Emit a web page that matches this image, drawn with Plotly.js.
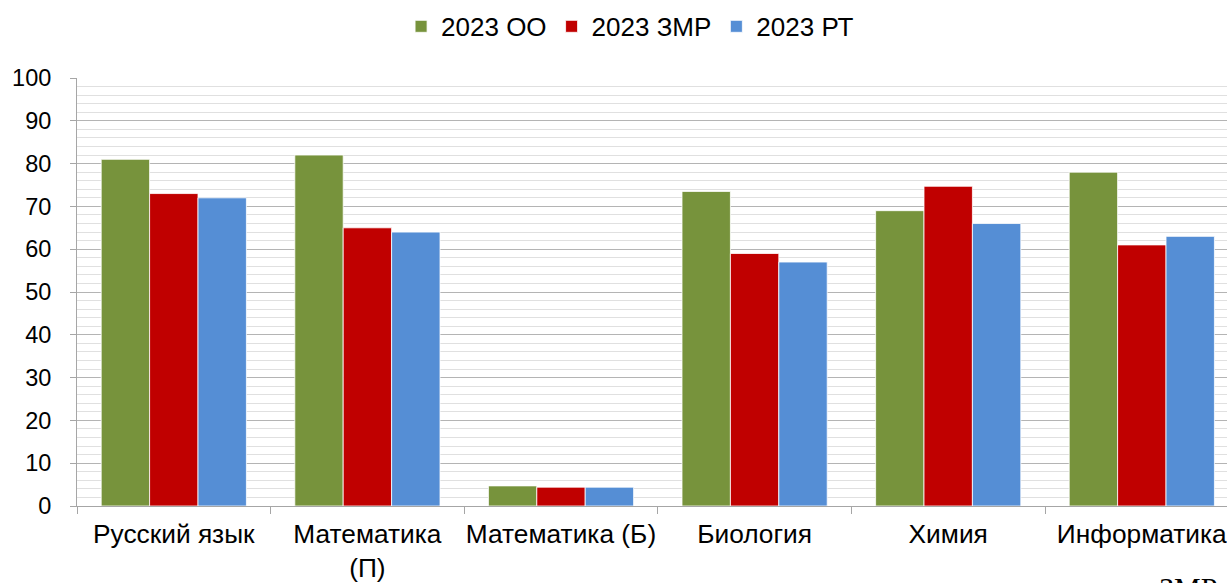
<!DOCTYPE html>
<html><head><meta charset="utf-8">
<script src="https://cdn.plot.ly/plotly-3.0.1.min.js"></script>
<style>html,body{margin:0;padding:0;overflow:hidden;background:#fff}</style>
</head><body><div id="chart" style="width:1227px;height:583px"></div>
<script>
const categories = ["Русский язык", "Математика<br>(П)", "Математика (Б)", "Биология", "Химия", "Информатика"];
const seriesNames = ["2023 ОО", "2023 ЗМР", "2023 РТ"];
const valuesOO  = [81, 82, 4.7, 73.5, 69, 78];
const valuesZMR = [73, 65, 4.4, 59, 74.7, 61];
const valuesRT  = [72, 64, 4.4, 57, 66, 63];
const colors = ["#77933c", "#c00000", "#558ed5"];
const yTicks = [0,10,20,30,40,50,60,70,80,90,100];

const data = [valuesOO, valuesZMR, valuesRT].map((v, i) => ({
  type: "bar", name: seriesNames[i], x: categories, y: v,
  marker: {color: colors[i], line: {color: "#ffffff", width: 0.8}}
}));

const layout = {
  width: 1227, height: 583,
  margin: {l: 77, r: 0, t: 78, b: 77},
  font: {family: "Liberation Sans, Arial, sans-serif", size: 24, color: "#000"},
  paper_bgcolor: "#fff", plot_bgcolor: "#fff",
  barmode: "group", bargap: 0.25, bargroupgap: 0,
  showlegend: true,
  legend: {orientation: "h", xref: "container", yref: "container", x: 0.5135, xanchor: "center", y: 0.995, yanchor: "top",
           font: {size: 26}, itemwidth: 20, traceorder: "normal", tracegroupgap: 0},
  xaxis: {range: [-0.5, 5.44], showline: true, linecolor: "#a6a6a6", linewidth: 1,
          ticks: "outside", tickson: "boundaries", ticklen: 7, tickcolor: "#a6a6a6",
          tickangle: 0, automargin: false,
          tickfont: {size: 26.3}, ticklabelstandoff: 4, fixedrange: true},
  yaxis: {range: [0, 100], tickvals: yTicks, ticktext: yTicks.map(String),
          showline: true, linecolor: "#a6a6a6", linewidth: 1,
          ticks: "outside", ticklen: 6, tickcolor: "#a6a6a6",
          showgrid: true, gridcolor: "#b4b4b4", gridwidth: 1,
          minor: {dtick: 2, showgrid: true, gridcolor: "#e0e0e0", gridwidth: 1},
          tickfont: {size: 23.5}, ticklabelstandoff: 14, zeroline: false},
  annotations: [{text: "ЗМР", xref: "paper", yref: "paper", x: 0.939, y: -0.147, xanchor: "left", yanchor: "top",
                 showarrow: false, font: {family: "Liberation Serif, Times New Roman, serif", size: 30}}]
};
Plotly.newPlot("chart", data, layout, {displayModeBar: false, staticPlot: true});
</script></body></html>
